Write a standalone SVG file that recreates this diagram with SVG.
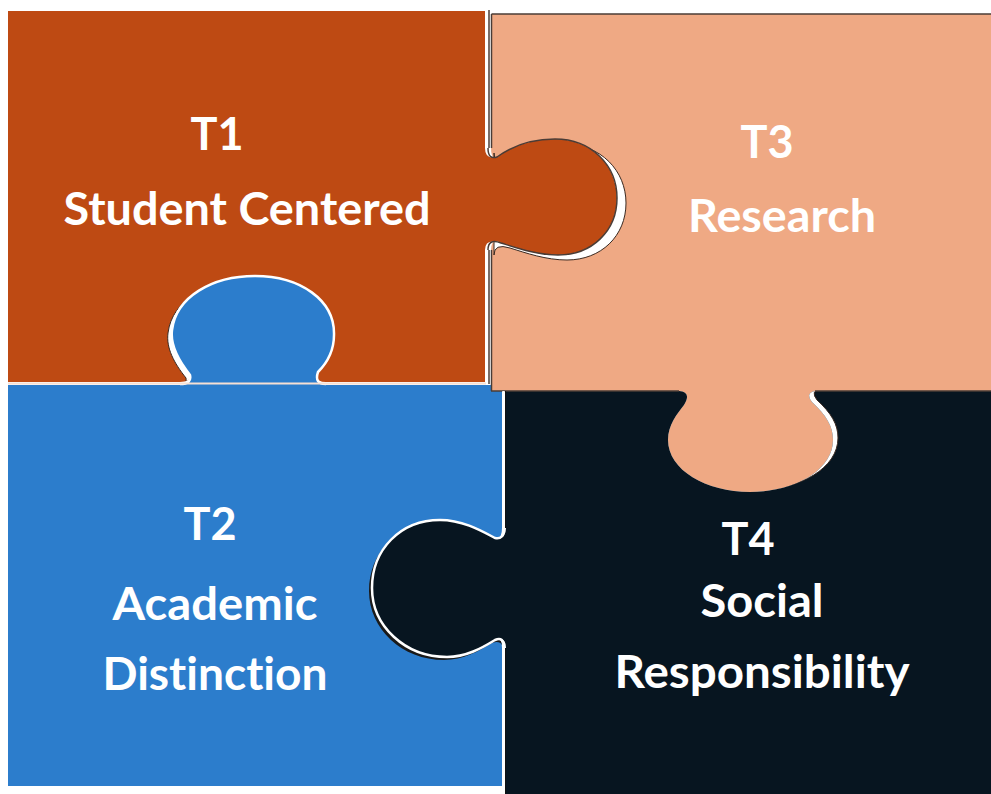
<svg xmlns="http://www.w3.org/2000/svg" xmlns:xlink="http://www.w3.org/1999/xlink" width="991" height="794" viewBox="0 0 991 794">
<style>
.t1{fill:#BE4A13}
.t2{fill:#2C7DCC}
.t3{fill:#EFA984}
.t4{fill:#071520}
.lbl{font-family:Lato,"Open Sans","Liberation Sans",sans-serif;font-weight:700;fill:#FFFFFF;text-anchor:middle;font-size:45px;font-variant-ligatures:none;font-feature-settings:"liga" 0,"clig" 0}
.shadow{fill:#FFFFFF;stroke:#3a2a22;stroke-width:1}
.edge{fill:none;stroke:#FFFFFF;stroke-width:2.5}
.dark{fill:none;stroke:#4a3c36;stroke-width:1.5}
</style>
<defs>
<clipPath id="c1"><use xlink:href="#s1"/></clipPath>
<clipPath id="c2"><use xlink:href="#s2"/></clipPath>
<clipPath id="c3"><use xlink:href="#s3"/></clipPath>
<clipPath id="c4"><use xlink:href="#s4"/></clipPath>
</defs>
<rect width="991" height="794" fill="#FFFFFF"/>

<g id="T1">
<path id="s1" class="t1" d="M8,11 H485 V148 Q485,160 497,157 C512,146 532,139 555,139 C592,139 617,166 617,198 C617,231 592,255 558,255 C537,255 517,248 501,243 Q485,238 485,250 V382 H326 Q314,382 318,372 C325,365 334,352 334,335 C335,300 300,276 255,276 C212,276 176,297 172,330 C170,345 178,360 190,375 Q192,382 180,382 H8 Z"/>
<text class="lbl" x="217" y="150">T1</text>
<text class="lbl" x="247" y="225" textLength="367" lengthAdjust="spacingAndGlyphs">Student Centered</text>
</g>

<g id="T2">
<path id="s2" class="t2" d="M8,385 H180 Q192,385 190,375 C178,360 170,345 172,330 C176,297 212,276 255,276 C300,276 335,300 334,335 C334,352 325,365 318,372 Q314,385 326,385 H502 V528 Q502,540 495,538 C480,530 462,520 440,520 C400,520 372,550 372,588 C372,626 405,657 447,657 C466,657 482,648 495,640 Q502,636 502,648 V786 H8 Z"/>
<text class="lbl" x="210" y="540">T2</text>
<text class="lbl" x="215" y="620" textLength="205" lengthAdjust="spacingAndGlyphs">Academic</text>
<text class="lbl" x="215" y="690" textLength="225" lengthAdjust="spacingAndGlyphs">Distinction</text>
</g>

<g id="T3">
<path id="s3" class="t3" d="M491,14 H991 V391 H815 Q805,393 812,402 C826,415 833,426 833,440 C833,470 795,492 750,492 C706,492 668,470 668,440 C668,425 677,414 684,405 Q692,392 679,391 H491 V250 Q491,238 501,243 C517,248 537,255 558,255 C592,255 617,231 617,198 C617,166 592,139 555,139 C532,139 512,146 497,157 Q491,160 491,148 Z"/>
<text class="lbl" x="767" y="158">T3</text>
<text class="lbl" x="782" y="232" textLength="188" lengthAdjust="spacingAndGlyphs">Research</text>
</g>

<g id="T4">
<path id="s4" class="t4" d="M506,391 H679 Q692,392 684,405 C677,414 668,425 668,440 C668,470 706,492 750,492 C795,492 833,470 833,440 C833,426 826,415 812,402 Q805,393 815,391 H991 V794 H506 V648 Q506,636 495,640 C482,648 466,657 447,657 C405,657 372,626 372,588 C372,550 400,520 440,520 C462,520 480,530 495,538 Q506,540 506,528 Z"/>
<text class="lbl" x="748" y="555">T4</text>
<text class="lbl" x="762" y="617" textLength="123" lengthAdjust="spacingAndGlyphs">Social</text>
<text class="lbl" x="762" y="688" textLength="295" lengthAdjust="spacingAndGlyphs">Responsibility</text>
</g>

<g id="seams">
<g clip-path="url(#c3)"><path class="shadow" transform="translate(9,5)" d="M485,148 Q485,160 497,157 C512,146 532,139 555,139 C592,139 617,166 617,198 C617,231 592,255 558,255 C537,255 517,248 501,243 Q485,238 485,250 Z"/></g>
<g clip-path="url(#c1)"><path class="shadow" transform="translate(-4,3)" d="M180,385 Q192,385 190,375 C178,360 170,345 172,330 C176,297 212,276 255,276 C300,276 335,300 334,335 C334,352 325,365 318,372 Q314,385 326,385 Z"/></g>
<g clip-path="url(#c4)"><path class="shadow" transform="translate(5,-2)" d="M815,391 Q805,393 812,402 C826,415 833,426 833,440 C833,470 795,492 750,492 C706,492 668,470 668,440 C668,425 677,414 684,405 Q692,392 679,391 Z"/></g>
<g clip-path="url(#c2)"><path fill="#1a1a1a" transform="translate(-3,3)" d="M506,528 Q506,540 495,538 C480,530 462,520 440,520 C400,520 372,550 372,588 C372,626 405,657 447,657 C466,657 482,648 495,640 Q506,636 506,648 Z"/></g>
<path class="edge" d="M180,384 Q192,384 190,375 C178,360 170,345 172,330 C176,297 212,276 255,276 C300,276 335,300 334,335 C334,352 325,365 318,372 Q314,384 326,384"/>
<path class="edge" d="M504,528 Q504,540 495,538 C480,530 462,520 440,520 C400,520 372,550 372,588 C372,626 405,657 447,657 C466,657 482,648 495,640 Q504,636 504,648"/>
<path class="dark" stroke-width="1" d="M488,148 Q488,160 497,157 C512,146 532,139 555,139 C592,139 617,166 617,198 C617,231 592,255 558,255 C537,255 517,248 501,243 Q488,238 488,250"/>
<line class="edge" x1="486.5" y1="11" x2="486.5" y2="148"/>
<line class="edge" x1="486.5" y1="250" x2="486.5" y2="383"/>
<line class="dark" x1="489" y1="10" x2="489" y2="148"/>
<line class="dark" x1="489" y1="250" x2="489" y2="384"/>
<line x1="8" y1="383.5" x2="486" y2="383.5" stroke="#F6E0D4" stroke-width="2"/>
<line class="dark" x1="491.5" y1="14" x2="991" y2="14"/>
<line class="dark" x1="491.5" y1="14" x2="491.5" y2="148"/>
<line class="dark" x1="491.5" y1="250" x2="491.5" y2="391"/>
<line class="dark" x1="491" y1="391" x2="679" y2="391"/>
<line class="dark" x1="815" y1="391" x2="991" y2="391"/>
<line class="edge" x1="503.5" y1="391" x2="503.5" y2="528"/>
<line class="edge" x1="503.5" y1="648" x2="503.5" y2="794"/>
<line x1="505.5" y1="391" x2="505.5" y2="528" stroke="#111" stroke-width="1"/>
<line x1="505.5" y1="648" x2="505.5" y2="794" stroke="#111" stroke-width="1"/>
</g>
</svg>
